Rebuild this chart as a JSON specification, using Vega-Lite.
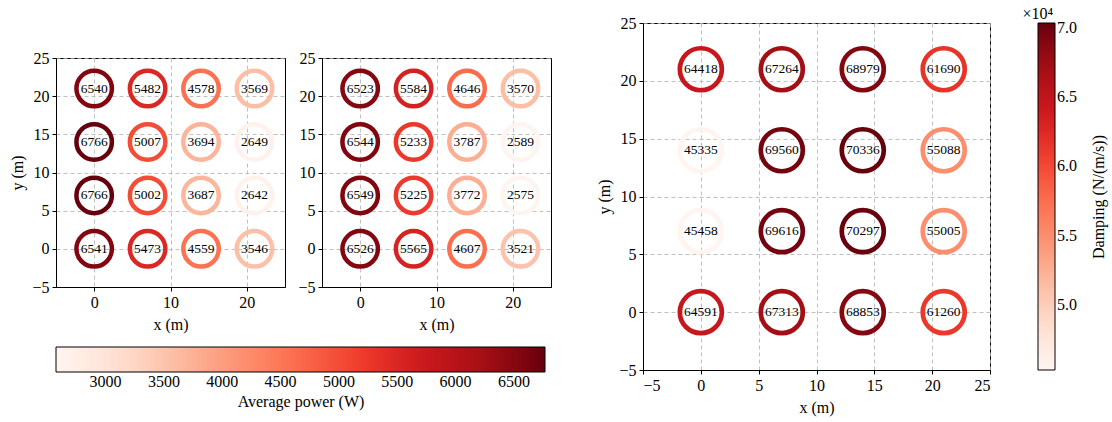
{
  "$schema": "https://vega.github.io/schema/vega-lite/v6.json",
  "background": "white",
  "padding": {"left": 9, "top": 5, "right": 2, "bottom": 2},
  "config": {
    "font": "Liberation Serif",
    "view": {"stroke": "black", "strokeWidth": 1},
    "axis": {
      "labelFont": "Liberation Serif", "labelFontSize": 16, "labelColor": "black",
      "titleFont": "Liberation Serif", "titleFontSize": 16, "titleFontWeight": "normal", "titleColor": "black",
      "domainColor": "black", "tickColor": "black", "tickSize": 4,
      "gridColor": "#b0b0b0", "gridDash": [4, 3], "gridWidth": 0.8,
      "labelPadding": 3, "titlePadding": 6
    },
    "legend": {
      "labelFont": "Liberation Serif", "labelFontSize": 16, "labelColor": "black",
      "titleFont": "Liberation Serif", "titleFontSize": 16, "titleFontWeight": "normal", "titleColor": "black",
      "gradientStrokeColor": "black", "gradientStrokeWidth": 1
    },
    "title": {"font": "Liberation Serif", "fontWeight": "normal", "color": "black"}
  },
  "datasets": {
    "power1": [
      {"x": 0, "y": 21, "p": 6540}, {"x": 7, "y": 21, "p": 5482}, {"x": 14, "y": 21, "p": 4578}, {"x": 21, "y": 21, "p": 3569},
      {"x": 0, "y": 14, "p": 6766}, {"x": 7, "y": 14, "p": 5007}, {"x": 14, "y": 14, "p": 3694}, {"x": 21, "y": 14, "p": 2649},
      {"x": 0, "y": 7, "p": 6766}, {"x": 7, "y": 7, "p": 5002}, {"x": 14, "y": 7, "p": 3687}, {"x": 21, "y": 7, "p": 2642},
      {"x": 0, "y": 0, "p": 6541}, {"x": 7, "y": 0, "p": 5473}, {"x": 14, "y": 0, "p": 4559}, {"x": 21, "y": 0, "p": 3546}
    ],
    "power2": [
      {"x": 0, "y": 21, "p": 6523}, {"x": 7, "y": 21, "p": 5584}, {"x": 14, "y": 21, "p": 4646}, {"x": 21, "y": 21, "p": 3570},
      {"x": 0, "y": 14, "p": 6544}, {"x": 7, "y": 14, "p": 5233}, {"x": 14, "y": 14, "p": 3787}, {"x": 21, "y": 14, "p": 2589},
      {"x": 0, "y": 7, "p": 6549}, {"x": 7, "y": 7, "p": 5225}, {"x": 14, "y": 7, "p": 3772}, {"x": 21, "y": 7, "p": 2575},
      {"x": 0, "y": 0, "p": 6526}, {"x": 7, "y": 0, "p": 5565}, {"x": 14, "y": 0, "p": 4607}, {"x": 21, "y": 0, "p": 3521}
    ],
    "damping": [
      {"x": 0, "y": 21, "d": 64418}, {"x": 7, "y": 21, "d": 67264}, {"x": 14, "y": 21, "d": 68979}, {"x": 21, "y": 21, "d": 61690},
      {"x": 0, "y": 14, "d": 45335}, {"x": 7, "y": 14, "d": 69560}, {"x": 14, "y": 14, "d": 70336}, {"x": 21, "y": 14, "d": 55088},
      {"x": 0, "y": 7, "d": 45458}, {"x": 7, "y": 7, "d": 69616}, {"x": 14, "y": 7, "d": 70297}, {"x": 21, "y": 7, "d": 55005},
      {"x": 0, "y": 0, "d": 64591}, {"x": 7, "y": 0, "d": 67313}, {"x": 14, "y": 0, "d": 68853}, {"x": 21, "y": 0, "d": 61260}
    ]
  },
  "hconcat": [
    {
      "spacing": 0,
      "vconcat": [
        {
          "width": 229, "height": 26,
          "view": {"stroke": null},
          "data": {"values": []},
          "mark": "point"
        },
        {
          "spacing": 11,
          "resolve": {"scale": {"x": "independent", "y": "independent"}},
          "hconcat": [
            {
              "width": 229, "height": 229,
              "data": {"name": "power1"},
              "encoding": {
                "x": {"field": "x", "type": "quantitative", "scale": {"domain": [-5, 25], "nice": false, "zero": false}, "axis": {"values": [0, 10, 20], "title": "x (m)"}},
                "y": {"field": "y", "type": "quantitative", "scale": {"domain": [-5, 25], "nice": false, "zero": false}, "axis": {"values": [-5, 0, 5, 10, 15, 20, 25], "title": "y (m)"}}
              },
              "layer": [
                {
                  "mark": {"type": "point", "filled": false, "strokeWidth": 4.5, "size": 1260, "opacity": 1},
                  "encoding": {
                    "color": {"field": "p", "type": "quantitative",
                      "scale": {"domain": [2575, 3098.875, 3622.75, 4146.625, 4670.5, 5194.375, 5718.25, 6242.125, 6766], "range": ["#fff5f0", "#fee0d2", "#fcbba1", "#fc9272", "#fb6a4a", "#ef3b2c", "#cb181d", "#a50f15", "#67000d"], "interpolate": "rgb"},
                      "legend": {"title": "Average power (W)", "orient": "bottom", "direction": "horizontal", "gradientLength": 489, "gradientThickness": 25, "titleOrient": "bottom", "titleAnchor": "middle", "values": [3000, 3500, 4000, 4500, 5000, 5500, 6000, 6500], "format": "d", "offset": 14, "titlePadding": 4}}
                  }
                },
                {
                  "mark": {"type": "text", "fontSize": 13.5, "font": "Liberation Serif", "color": "black"},
                  "encoding": {"text": {"field": "p", "type": "quantitative", "format": "d"}}
                }
              ]
            },
            {
              "width": 229, "height": 229,
              "data": {"name": "power2"},
              "encoding": {
                "x": {"field": "x", "type": "quantitative", "scale": {"domain": [-5, 25], "nice": false, "zero": false}, "axis": {"values": [0, 10, 20], "title": "x (m)"}},
                "y": {"field": "y", "type": "quantitative", "scale": {"domain": [-5, 25], "nice": false, "zero": false}, "axis": {"values": [-5, 0, 5, 10, 15, 20, 25], "title": null}}
              },
              "layer": [
                {
                  "mark": {"type": "point", "filled": false, "strokeWidth": 4.5, "size": 1260, "opacity": 1},
                  "encoding": {
                    "color": {"field": "p", "type": "quantitative",
                      "scale": {"domain": [2575, 3098.875, 3622.75, 4146.625, 4670.5, 5194.375, 5718.25, 6242.125, 6766], "range": ["#fff5f0", "#fee0d2", "#fcbba1", "#fc9272", "#fb6a4a", "#ef3b2c", "#cb181d", "#a50f15", "#67000d"], "interpolate": "rgb"},
                      "legend": {"title": "Average power (W)", "orient": "bottom", "direction": "horizontal", "gradientLength": 489, "gradientThickness": 25, "titleOrient": "bottom", "titleAnchor": "middle", "values": [3000, 3500, 4000, 4500, 5000, 5500, 6000, 6500], "format": "d", "offset": 14, "titlePadding": 4}}
                  }
                },
                {
                  "mark": {"type": "text", "fontSize": 13.5, "font": "Liberation Serif", "color": "black"},
                  "encoding": {"text": {"field": "p", "type": "quantitative", "format": "d"}}
                }
              ]
            }
          ]
        }
      ]
    },
    {
      "width": 347, "height": 347,
      "data": {"name": "damping"},
      "title": {"text": "×10⁴", "anchor": "end", "frame": "group", "dx": 63, "fontSize": 16, "offset": -7},
      "encoding": {
        "x": {"field": "x", "type": "quantitative", "scale": {"domain": [-5, 25], "nice": false, "zero": false}, "axis": {"values": [-5, 0, 5, 10, 15, 20, 25], "title": "x (m)"}}
      },
      "layer": [
        {
          "mark": {"type": "point", "filled": false, "strokeWidth": 4.7, "size": 1764, "opacity": 1},
          "encoding": {
            "y": {"field": "y", "type": "quantitative", "scale": {"domain": [-5, 25], "nice": false, "zero": false}, "axis": {"values": [-5, 0, 5, 10, 15, 20, 25], "title": "y (m)"}},
            "color": {"field": "d", "type": "quantitative",
              "scale": {"domain": [45335, 48460.125, 51585.25, 54710.375, 57835.5, 60960.625, 64085.75, 67210.875, 70336], "range": ["#fff5f0", "#fee0d2", "#fcbba1", "#fc9272", "#fb6a4a", "#ef3b2c", "#cb181d", "#a50f15", "#67000d"], "interpolate": "rgb"},
              "legend": {"title": null, "orient": "right", "direction": "vertical", "gradientLength": 347, "gradientThickness": 17, "values": [50000, 55000, 60000, 65000, 70000], "labelExpr": "format(datum.value/10000, '.1f')", "offset": -68}}
          }
        },
        {
          "mark": {"type": "text", "fontSize": 13.5, "font": "Liberation Serif", "color": "black"},
          "encoding": {
            "y": {"field": "y", "type": "quantitative", "scale": {"domain": [-5, 25], "nice": false, "zero": false}, "axis": {"orient": "right", "title": "Damping (N/(m/s))", "titleAngle": 270, "labels": false, "ticks": false, "domain": false, "grid": false, "offset": 116, "titlePadding": 0, "minExtent": 0}},
            "text": {"field": "d", "type": "quantitative", "format": "d"}
          }
        }
      ],
      "resolve": {"scale": {"y": "independent"}}
    }
  ],
  "spacing": 44,
  "resolve": {"scale": {"color": "independent", "x": "independent", "y": "independent"}}
}
